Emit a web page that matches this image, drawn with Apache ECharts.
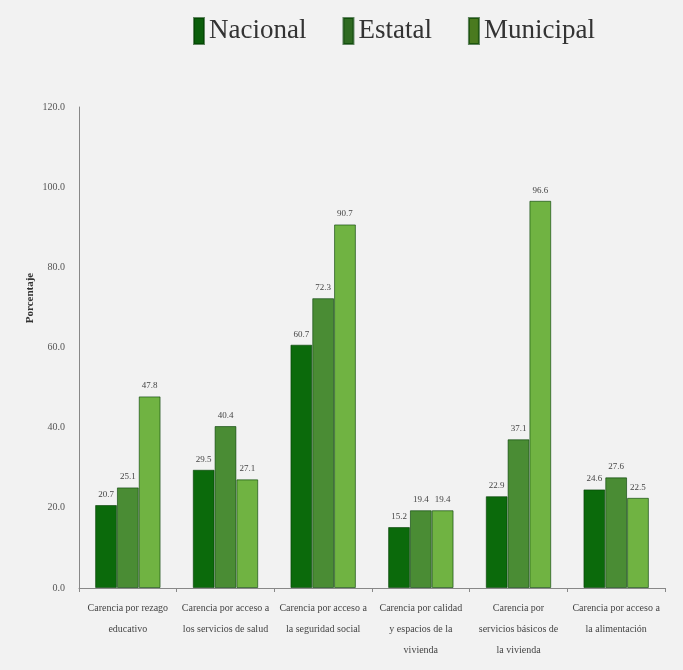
<!DOCTYPE html>
<html><head><meta charset="utf-8">
<script src="https://cdn.jsdelivr.net/npm/echarts@6/dist/echarts.min.js"></script>
<style>html,body{margin:0;padding:0;background:#f2f2f2;}#c{width:683px;height:670px;}</style>
</head><body><div id="c"></div>
<script>
const categories = [
  'Carencia por rezago\neducativo',
  'Carencia por acceso a\nlos servicios de salud',
  'Carencia por acceso a\nla seguridad social',
  'Carencia por calidad\ny espacios de la\nvivienda',
  'Carencia por\nservicios básicos de\nla vivienda',
  'Carencia por acceso a\nla alimentación'
];
const seriesNames = ['Nacional', 'Estatal', 'Municipal'];
const nacional = [20.7, 29.5, 60.7, 15.2, 22.9, 24.6];
const estatal = [25.1, 40.4, 72.3, 19.4, 37.1, 27.6];
const municipal = [47.8, 27.1, 90.7, 19.4, 96.6, 22.5];
const yTicks = { min: 0, max: 120, interval: 20 };

const colors = ['#0b6a0b', '#4a8c34', '#70b342'];
const legendColors = ['#0b5e0b', '#2f6b22', '#4a7a1f'];
const font = 'Liberation Serif';
const values = [nacional, estatal, municipal];

const chart = echarts.init(document.getElementById('c'));
chart.setOption({
  backgroundColor: '#f2f2f2',
  textStyle: { fontFamily: font },
  legend: {
    top: 12, left: 188, itemGap: 36,
    itemWidth: 10, itemHeight: 26,
    icon: 'rect',
    textStyle: { fontFamily: font, fontSize: 27, color: '#333' },
    data: seriesNames.map((n, i) => ({ name: n, itemStyle: { color: legendColors[i] } }))
  },
  grid: { left: 79, right: 18, top: 107, bottom: 82 },
  xAxis: {
    type: 'category', data: categories,
    axisLine: { lineStyle: { color: '#888' } },
    axisTick: { show: true, length: 4, lineStyle: { color: '#888' } },
    axisLabel: { interval: 0, fontSize: 10, lineHeight: 21, color: '#444', margin: 10, fontFamily: font }
  },
  yAxis: {
    type: 'value', min: yTicks.min, max: yTicks.max, interval: yTicks.interval,
    splitLine: { show: false },
    axisLine: { show: true, lineStyle: { color: '#888' } },
    axisTick: { show: false },
    axisLabel: { fontSize: 10, color: '#555', margin: 14, fontFamily: font, formatter: v => v.toFixed(1) }
  },
  graphic: [{
    type: 'text', x: 30, y: 298, rotation: Math.PI / 2,
    style: { text: 'Porcentaje', font: 'bold 11px "Liberation Serif"', fill: '#333', align: 'center', verticalAlign: 'middle' }
  }],
  series: seriesNames.map((n, i) => ({
    name: n, type: 'bar', data: values[i],
    barGap: '0%', barCategoryGap: '33%',
    itemStyle: { color: colors[i], borderColor: 'rgba(0,60,0,0.6)', borderWidth: 1 },
    label: { show: true, position: 'top', fontSize: 9, color: '#444', distance: 6, fontFamily: font, formatter: p => p.value.toFixed(1) }
  }))
});
</script></body></html>
